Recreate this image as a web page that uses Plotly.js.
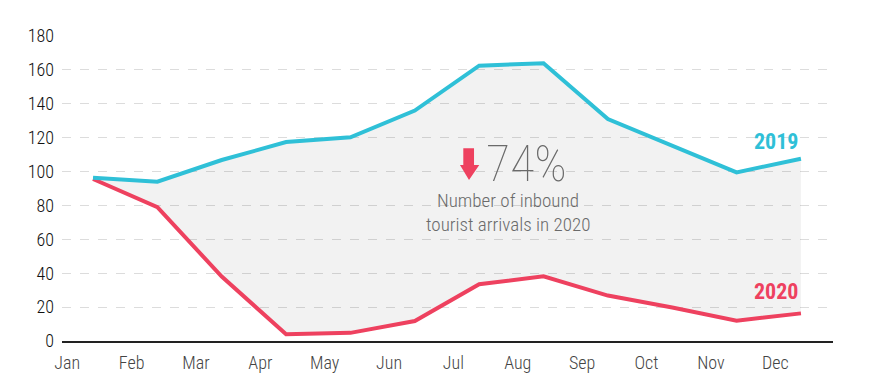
<!DOCTYPE html>
<html>
<head>
<meta charset="utf-8">
<script src="https://cdn.plot.ly/plotly-3.0.1.min.js"></script>
<style>html,body{margin:0;padding:0;background:#fff;}#chart{width:873px;height:387px;}</style>
</head>
<body>
<div id="chart"></div>
<script>
const months = ['Jan','Feb','Mar','Apr','May','Jun','Jul','Aug','Sep','Oct','Nov','Dec'];
const arrivals2019 = [96.4, 94, 106.8, 117.4, 120.2, 136, 162.5, 163.9, 131, 115.3, 99.5, 107.6];
const arrivals2020 = [95.6, 79, 38, 4, 4.8, 11.8, 33.5, 38.2, 26.8, 19.8, 12, 16.3];
const yTicks = [0, 20, 40, 60, 80, 100, 120, 140, 160, 180];

const FONT = '"Roboto Condensed", Roboto, sans-serif';
const CYAN = '#2fc0d7';
const RED = '#ee415f';
const idx = months.map((m, i) => i);

const traces = [
  {x: idx, y: arrivals2020, type: 'scatter', mode: 'lines', name: '2020',
   line: {color: RED, width: 4}, hoverinfo: 'skip'},
  {x: idx, y: arrivals2019, type: 'scatter', mode: 'lines', name: '2019',
   line: {color: CYAN, width: 4}, fill: 'tonexty', fillcolor: 'rgba(0,0,0,0.05)', hoverinfo: 'skip'}
];

const layout = {
  width: 873, height: 387,
  margin: {l: 62, r: 40, t: 36, b: 46},
  paper_bgcolor: '#fff', plot_bgcolor: '#fff',
  showlegend: false,
  font: {family: FONT, size: 18, color: '#111', weight: 300},
  xaxis: {
    range: [-0.482, 11.498],
    tickvals: idx.map(i => i - 0.4), ticktext: months,
    showgrid: false, zeroline: false,
    showline: true, linecolor: '#222', linewidth: 2,
    ticks: '', ticklabelstandoff: 4,
    tickfont: {family: FONT, size: 18, color: '#444', weight: 300},
    fixedrange: true
  },
  yaxis: {
    range: [0, 180],
    tickvals: yTicks,
    showgrid: true, gridcolor: '#dcdcdc', gridwidth: 1, griddash: 'dash',
    zeroline: false, showline: false, ticks: '', ticklabelstandoff: 7,
    tickfont: {family: FONT, size: 18, color: '#111', weight: 300},
    fixedrange: true
  },
  shapes: [{
    type: 'path', xref: 'paper', yref: 'paper',
    path: 'M 0.5205 0.6318 L 0.5344 0.6318 L 0.5344 0.5770 L 0.5412 0.5770 L 0.5279 0.5279 L 0.5162 0.5770 L 0.5205 0.5770 Z',
    fillcolor: RED, line: {width: 0}
  }],
  annotations: [
    {xref: 'paper', yref: 'paper', x: 0.6025, y: 0.5800, text: '74%', showarrow: false,
     xanchor: 'center', yanchor: 'middle', font: {family: FONT, size: 50, color: '#6a6a6a', weight: 100}},
    {xref: 'paper', yref: 'paper', x: 0.5785, y: 0.4620, text: 'Number of inbound', showarrow: false,
     xanchor: 'center', yanchor: 'middle', font: {family: FONT, size: 19, color: '#6a6a6a', weight: 300}},
    {xref: 'paper', yref: 'paper', x: 0.5785, y: 0.3820, text: 'tourist arrivals in 2020', showarrow: false,
     xanchor: 'center', yanchor: 'middle', font: {family: FONT, size: 19, color: '#6a6a6a', weight: 300}},
    {xref: 'paper', yref: 'paper', x: 0.9572, y: 0.6557, text: '2019', showarrow: false,
     xanchor: 'right', yanchor: 'middle', font: {family: FONT, size: 22, color: CYAN, weight: 700}},
    {xref: 'paper', yref: 'paper', x: 0.9572, y: 0.1639, text: '2020', showarrow: false,
     xanchor: 'right', yanchor: 'middle', font: {family: FONT, size: 22, color: RED, weight: 700}}
  ]
};

Plotly.newPlot('chart', traces, layout, {displayModeBar: false, staticPlot: true});
</script>
</body>
</html>
